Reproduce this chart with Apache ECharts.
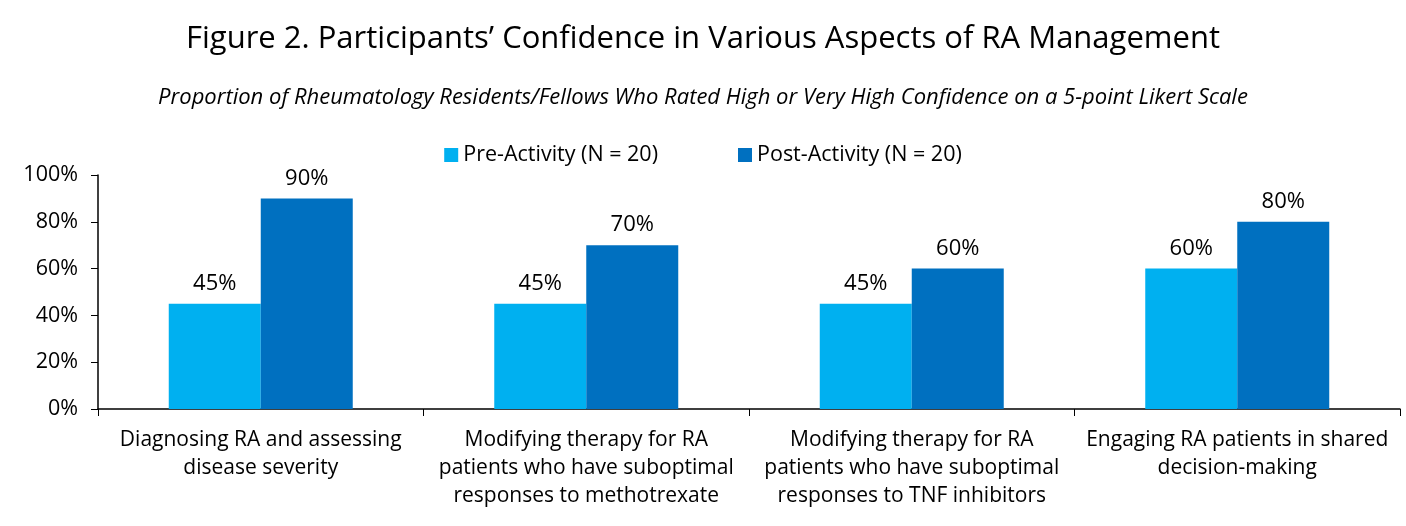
<!DOCTYPE html>
<html><head><meta charset="utf-8">
<script src="https://cdn.jsdelivr.net/npm/echarts@6/dist/echarts.min.js"></script>
<style>html,body{margin:0;padding:0;background:#fff}#c{width:1406px;height:526px}</style>
</head><body><div id="c"></div>
<script>
const categories = [
  "Diagnosing RA and assessing\ndisease severity",
  "Modifying therapy for RA\npatients who have suboptimal\nresponses to methotrexate",
  "Modifying therapy for RA\npatients who have suboptimal\nresponses to TNF inhibitors",
  "Engaging RA patients in shared\ndecision-making"
];
const preActivity = [45, 45, 45, 60];
const postActivity = [90, 70, 60, 80];
const seriesNames = ["Pre-Activity (N = 20)", "Post-Activity (N = 20)"];
const yTicks = [0, 20, 40, 60, 80, 100];

const font = "'Open Sans', 'Noto Sans', sans-serif";
const chart = echarts.init(document.getElementById('c'));
chart.setOption({
  animation: false,
  title: [
    {text: "Figure 2. Participants\u2019 Confidence in Various Aspects of RA Management", left: 'center', top: 19,
     textStyle: {fontFamily: font, fontSize: 31, fontWeight: 'normal', color: '#000'}},
    {text: "Proportion of Rheumatology Residents/Fellows Who Rated High or Very High Confidence on a 5-point Likert Scale", left: 'center', top: 82,
     textStyle: {fontFamily: font, fontSize: 22, fontStyle: 'italic', fontWeight: 'normal', color: '#000'}}
  ],
  legend: {
    top: 139, left: 'center', itemWidth: 14, itemHeight: 14, itemGap: 80,
    icon: 'rect',
    textStyle: {fontFamily: font, fontSize: 21.5, color: '#000'},
    data: seriesNames
  },
  grid: {left: 98, right: 6, top: 175, bottom: 117},
  xAxis: {
    type: 'category', data: categories,
    axisLine: {lineStyle: {color: '#000', width: 1.5}},
    axisTick: {show: true, length: 7, lineStyle: {color: '#000'}},
    axisLabel: {fontFamily: font, fontSize: 21, color: '#000', lineHeight: 28, margin: 17, interval: 0}
  },
  yAxis: {
    type: 'value', min: 0, max: 100, interval: 20,
    axisLine: {show: true, lineStyle: {color: '#000', width: 1.5}},
    axisTick: {show: true, length: 7, lineStyle: {color: '#000'}},
    splitLine: {show: false},
    axisLabel: {fontFamily: font, fontSize: 21.5, color: '#000', margin: 20,
      formatter: v => yTicks.includes(v) ? v + '%' : ''}
  },
  series: [
    {name: seriesNames[0], type: 'bar', data: preActivity, barWidth: 92, barGap: '0%',
     itemStyle: {color: '#00B0F0'},
     label: {show: true, position: 'top', distance: 9, formatter: '{c}%', fontFamily: font, fontSize: 22, color: '#000'}},
    {name: seriesNames[1], type: 'bar', data: postActivity, barWidth: 92, barGap: '0%',
     itemStyle: {color: '#0070C0'},
     label: {show: true, position: 'top', distance: 9, formatter: '{c}%', fontFamily: font, fontSize: 22, color: '#000'}}
  ]
});
</script></body></html>
